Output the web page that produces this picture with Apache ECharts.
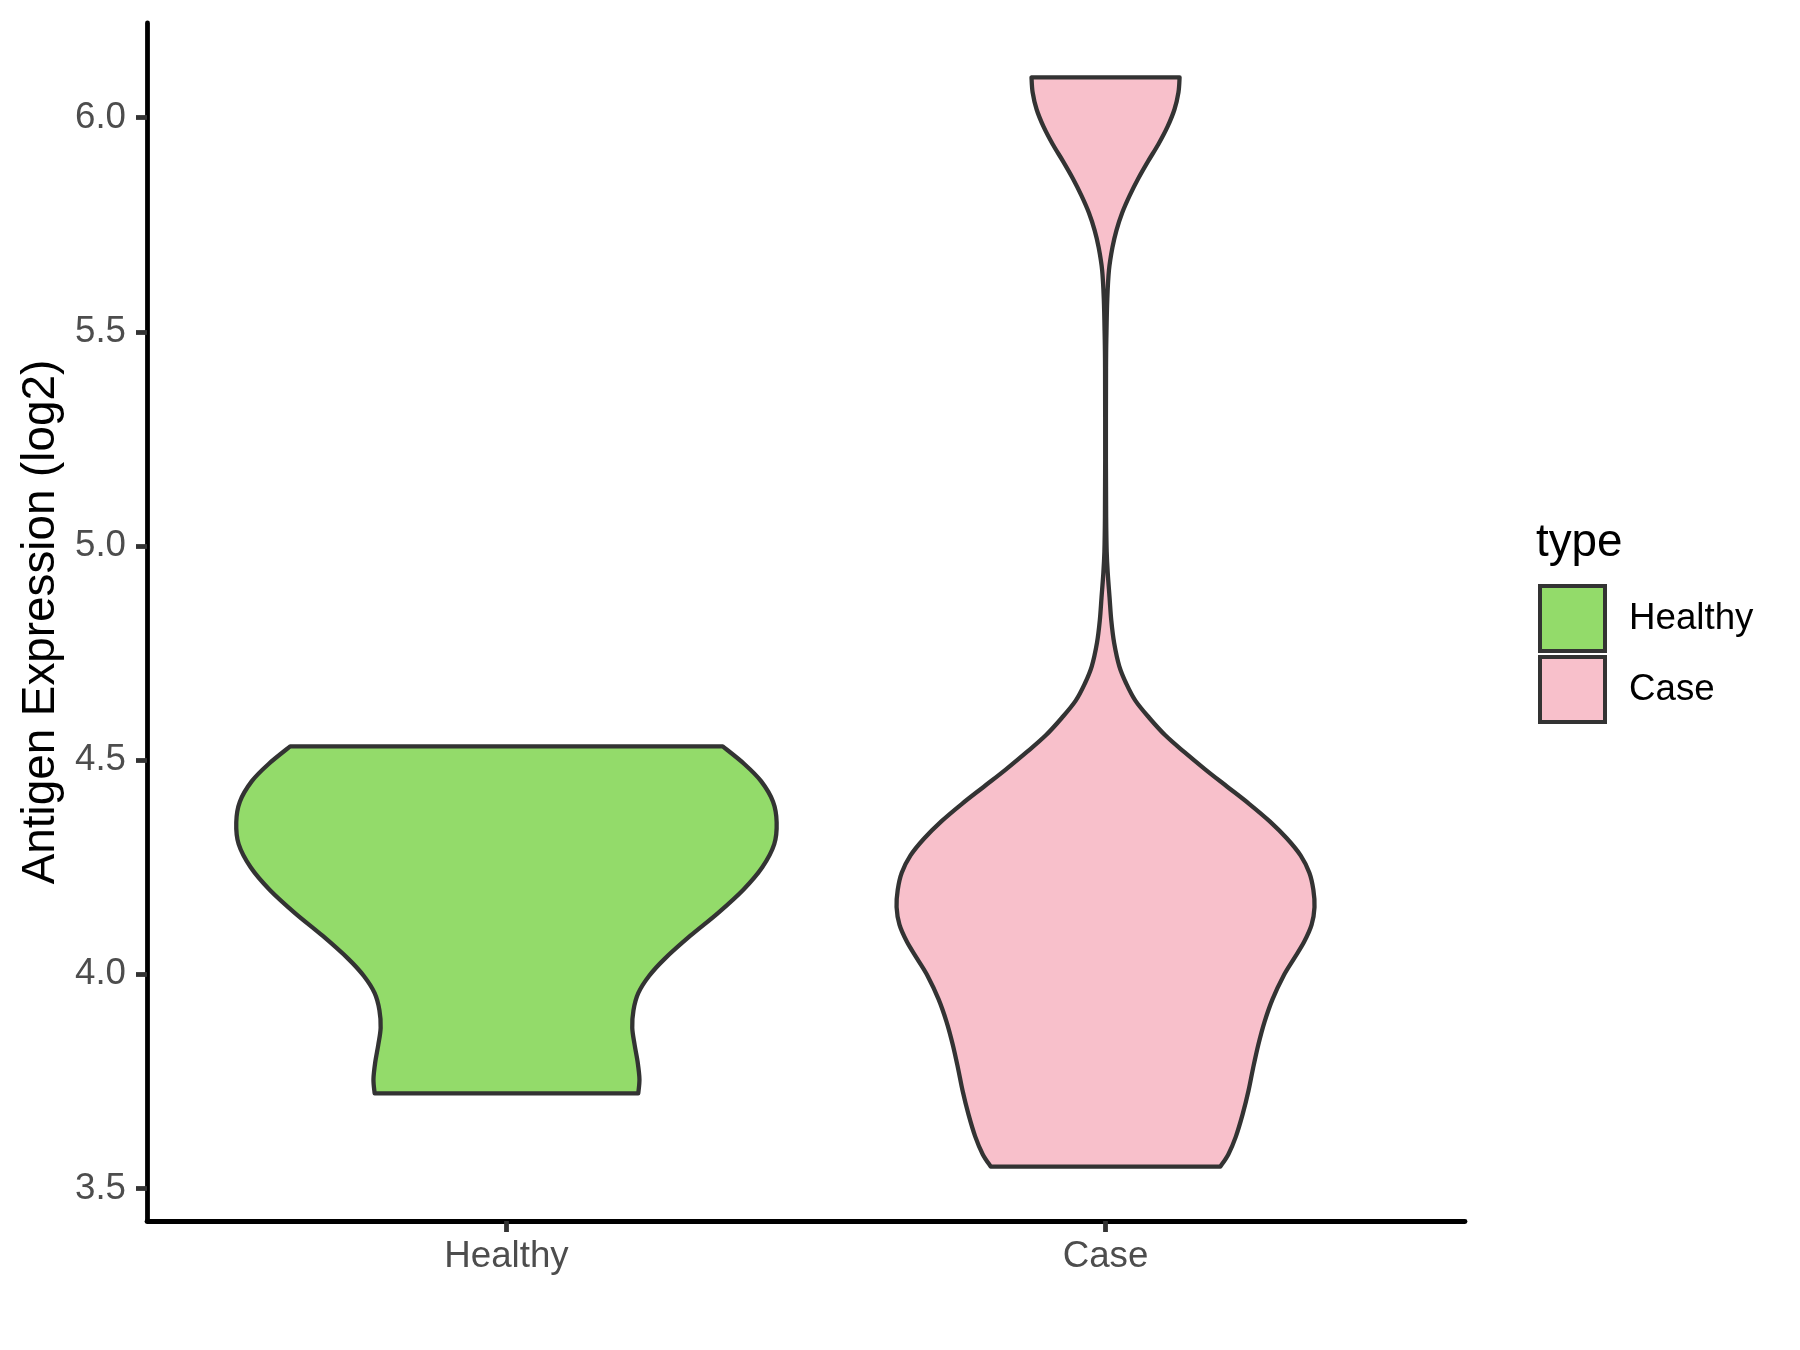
<!DOCTYPE html>
<html>
<head>
<meta charset="utf-8">
<script src="https://cdn.jsdelivr.net/npm/echarts@6/dist/echarts.min.js"></script>
<style>
html,body{margin:0;padding:0;background:#fff;}
#chart{width:1800px;height:1350px;}
</style>
</head>
<body>
<div id="chart"></div>
<script>
// ---- data ----
const categories = ['Healthy', 'Case'];
const yTicks = [3.5, 4.0, 4.5, 5.0, 5.5, 6.0];
const legendTitle = 'type';
const yTitle = 'Antigen Expression (log2)';

// Healthy violin: expression values (top -> bottom) and half-width of the density outline (x-axis units)
const healthyY = [4.532, 4.491, 4.451, 4.403, 4.355, 4.304, 4.250, 4.197, 4.143, 4.090, 4.036, 3.996, 3.956, 3.916, 3.875, 3.835, 3.795, 3.755, 3.722];
const healthyW = [0.361, 0.397, 0.425, 0.445, 0.451, 0.447, 0.427, 0.395, 0.353, 0.307, 0.264, 0.238, 0.220, 0.212, 0.210, 0.214, 0.219, 0.222, 0.220];

// Case violin
const caseY = [6.094, 6.059, 6.019, 5.979, 5.938, 5.898, 5.858, 5.818, 5.778, 5.737, 5.697, 5.644, 5.577, 5.496, 5.416, 5.201, 5.068,
  4.987, 4.934, 4.880, 4.826, 4.773, 4.719, 4.679, 4.639, 4.599, 4.558, 4.518, 4.478, 4.438, 4.398, 4.357, 4.317, 4.277, 4.237,
  4.197, 4.157, 4.116, 4.076, 4.036, 3.996, 3.942, 3.889, 3.835, 3.781, 3.728, 3.674, 3.621, 3.580, 3.551];
const caseW = [0.1236, 0.1217, 0.1150, 0.1035, 0.0882, 0.0709, 0.0546, 0.0402, 0.0278, 0.0182, 0.0115, 0.0057, 0.0029, 0.0015, 0.0008, 0.0006, 0.0010,
  0.0019, 0.0038, 0.0067, 0.0096, 0.0144, 0.0230, 0.0345, 0.0498, 0.0728, 0.0997, 0.1322, 0.1667, 0.2031, 0.2396, 0.2741, 0.3028, 0.3258, 0.3402,
  0.3469, 0.3488, 0.3440, 0.3315, 0.3143, 0.2970, 0.2788, 0.2654, 0.2549, 0.2463, 0.2386, 0.2290, 0.2175, 0.2051, 0.1916];

const colors = {Healthy: '#93DB6A', Case: '#F8C0CB'};
const FONT = '"Liberation Sans", Arial, Helvetica, sans-serif';

function crPath(pts) {
  // Catmull-Rom spline through the projected points, as cubic bezier commands
  let d = '';
  for (let i = 0; i < pts.length - 1; i++) {
    const p0 = pts[Math.max(i - 1, 0)], p1 = pts[i], p2 = pts[i + 1], p3 = pts[Math.min(i + 2, pts.length - 1)];
    const c1x = p1[0] + (p2[0] - p0[0]) / 6, c1y = p1[1] + (p2[1] - p0[1]) / 6;
    const c2x = p2[0] - (p3[0] - p1[0]) / 6, c2y = p2[1] - (p3[1] - p1[1]) / 6;
    d += ` C ${c1x} ${c1y} ${c2x} ${c2y} ${p2[0]} ${p2[1]}`;
  }
  return d;
}

function makeRender(ys, ws, color) {
  return function (params, api) {
    const pos = api.value(0);
    const R = ys.map((y, i) => api.coord([pos + ws[i], y]));          // top -> bottom
    const L = ys.map((y, i) => api.coord([pos - ws[i], y])).reverse(); // bottom -> top
    const d = `M ${R[0][0]} ${R[0][1]}` + crPath(R) + ` L ${L[0][0]} ${L[0][1]}` + crPath(L) + ' Z';
    return {
      type: 'path',
      shape: {pathData: d},
      style: {fill: color, stroke: '#333333', lineWidth: 4.3, lineJoin: 'round'}
    };
  };
}

const chart = echarts.init(document.getElementById('chart'), null, {renderer: 'canvas'});
chart.setOption({
  animation: false,
  backgroundColor: '#ffffff',
  grid: {left: 147, right: 335, top: 23, bottom: 129, containLabel: false},
  xAxis: {
    type: 'value', min: 0.4, max: 2.6,
    splitLine: {show: false},
    axisLine: {show: true, onZero: false, lineStyle: {color: '#000', width: 4.8}},
    axisTick: {show: true, customValues: [1, 2], length: 11, lineStyle: {color: '#333333', width: 4.8}},
    axisLabel: {show: true, customValues: [1, 2], formatter: v => categories[Math.round(v) - 1],
      margin: 17, color: '#4D4D4D', fontSize: 36.7, fontFamily: FONT}
  },
  yAxis: {
    type: 'value', min: 3.424, max: 6.221,
    name: yTitle, nameLocation: 'middle', nameGap: 75,
    nameTextStyle: {color: '#000', fontSize: 45.8, fontFamily: FONT},
    splitLine: {show: false},
    axisLine: {show: true, onZero: false, lineStyle: {color: '#000', width: 4.8}},
    axisTick: {show: true, customValues: yTicks, length: 11, lineStyle: {color: '#333333', width: 4.8}},
    axisLabel: {show: true, customValues: yTicks, formatter: v => Number(v).toFixed(1),
      margin: 21, color: '#4D4D4D', fontSize: 36.7, fontFamily: FONT}
  },
  legend: {
    orient: 'vertical', left: 1538, top: 584, padding: 0,
    itemWidth: 65, itemHeight: 65, itemGap: 2, icon: 'rect', selectedMode: false,
    itemStyle: {borderColor: '#333333', borderWidth: 4},
    textStyle: {color: '#000', fontSize: 36.7, fontFamily: FONT, padding: [7, 0, 0, 19]},
    data: categories
  },
  graphic: [{
    type: 'text', left: 1536, top: 520,
    style: {text: legendTitle, fill: '#000', font: `45.8px ${FONT}`}
  }],
  series: [
    {type: 'custom', name: 'Healthy', coordinateSystem: 'cartesian2d',
      itemStyle: {color: colors.Healthy}, renderItem: makeRender(healthyY, healthyW, colors.Healthy), data: [[1]]},
    {type: 'custom', name: 'Case', coordinateSystem: 'cartesian2d',
      itemStyle: {color: colors.Case}, renderItem: makeRender(caseY, caseW, colors.Case), data: [[2]]}
  ]
});
</script>
</body>
</html>
